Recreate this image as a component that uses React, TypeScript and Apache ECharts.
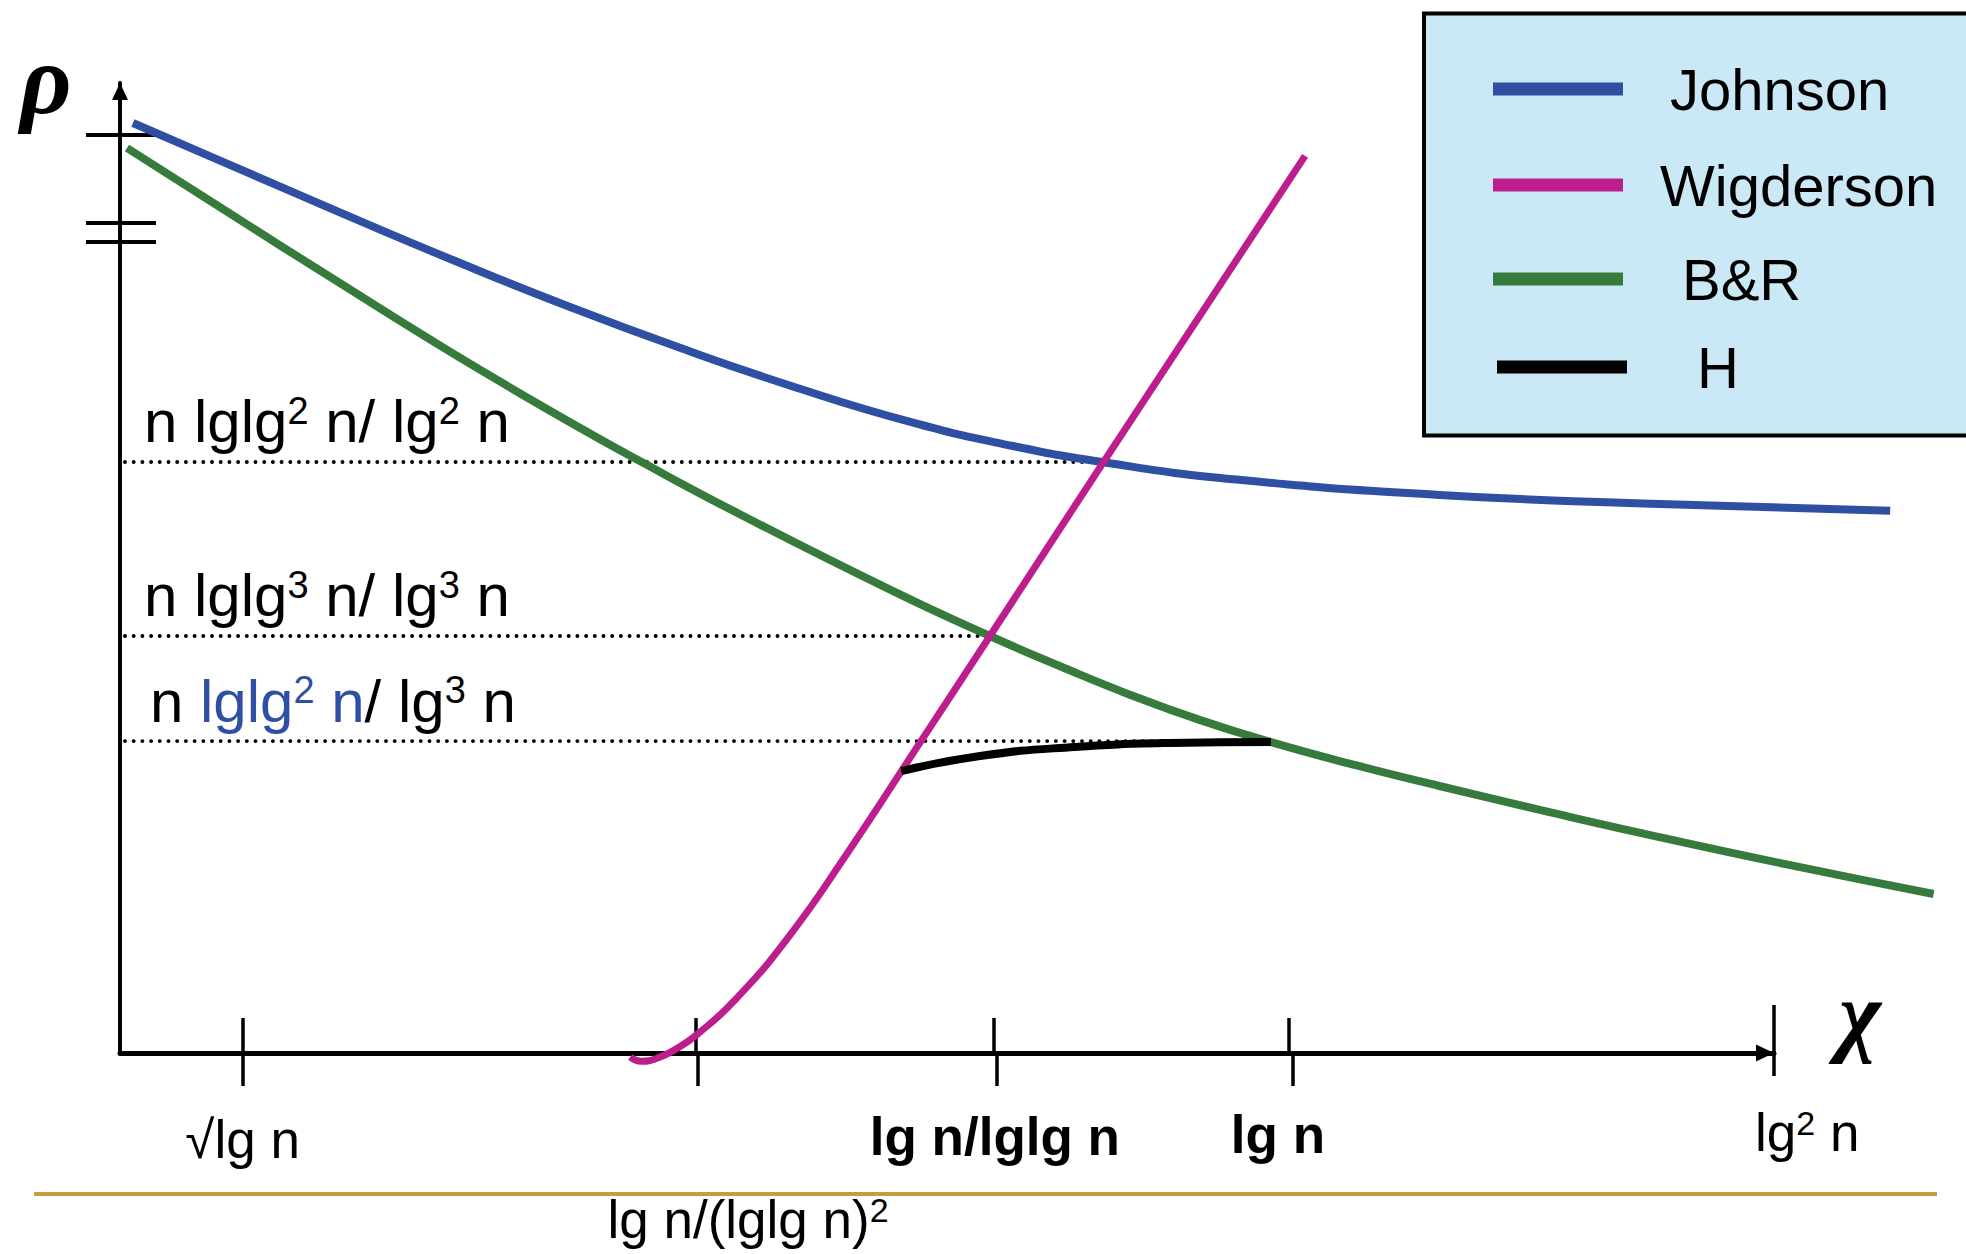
import React, { useEffect, useRef } from 'react';
import * as echarts from 'echarts';

// Chart units: x runs 0 (ρ-axis) .. 100 (lg² n), y runs 0 (χ-axis) .. 100 (top of ρ-axis).
const JOHNSON: [number, number][] = [
  [0.786, 95.876], [6.348, 91.794], [13.301, 86.691], [20.193, 81.753], [27.146, 77.01],
  [34.099, 72.619], [41.052, 68.588], [48.005, 65.031], [53.809, 62.701], [59.674, 60.897],
  [67.715, 59.113], [80.048, 57.536], [92.382, 56.649], [107.4, 55.9],
];

const WIGDERSON: [number, number][] = [
  [30.955, -0.412], [31.62, -0.845], [32.648, -0.495], [33.857, 0.536], [35.006, 1.907],
  [37.243, 5.34], [40.568, 11.979], [44.135, 20.619], [48.428, 31.711], [52.781, 42.99],
  [59.674, 60.928], [71.9, 92.49],
];

const BR: [number, number][] = [
  [0.423, 93.299], [6.348, 86.887], [13.301, 79.412], [20.193, 72.124], [27.146, 65.186],
  [31.681, 60.897], [37.545, 55.598], [47.158, 47.402], [52.781, 42.99], [57.074, 39.845],
  [61.306, 36.918], [65.538, 34.32], [69.831, 32.052], [74.97, 29.67], [80.048, 27.526],
  [86.215, 25.041], [92.382, 22.639], [100.967, 19.495], [110.036, 16.392],
];

const H: [number, number][] = [
  [47.4, 29.07], [52.18, 30.62], [57.92, 31.55], [63.72, 31.96], [69.83, 32.05],
];

const SERIES_NAMES = ['Johnson', 'Wigderson', 'B&R', 'H'];

// χ-axis ticks and their labels (the last tick sits at the arrow head)
const X_TICKS = [7.44, 34.95, 53.02, 70.92];
const X_END = 100;
const X_TICK_LABELS = [
  '{k|√lg n}',
  '{k|lg n/(lglg n)}{s|2}',
  '{kb|lg n/lglg n}',
  '{kb|lg n}',
  '{k|lg}{s|2}{k|\u00a0n}',
];

// ρ-axis break marks
const Y_TICKS = [94.64, 85.57, 83.61];

// Reference levels (dotted) and where each one stops
const LEVELS = [60.93, 42.99, 32.16];
const LEVEL_STARTS = [0.3, 0.3, 0.3];
const LEVEL_ENDS = [59.67, 52.9, 69.83];
const LEVEL_LABELS = [
  '{k|n lglg}{s|2}{k|\u00a0n/ lg}{s|2}{k|\u00a0n}',
  '{k|n lglg}{s|3}{k|\u00a0n/ lg}{s|3}{k|\u00a0n}',
  '{k|n }{b|lglg}{bs|2}{b|\u00a0n}{k|/ lg}{s|3}{k|\u00a0n}',
];

const FONT = '"Liberation Sans", Arial, sans-serif';
const SERIF = '"Liberation Serif", "Times New Roman", serif';
const COLORS: Record<string, string> = {
  Johnson: '#2F4FA2',
  Wigderson: '#BD1E8E',
  'B&R': '#367B3B',
  H: '#000000',
};
const LINE_WIDTHS: Record<string, number> = { Johnson: 8, Wigderson: 7, 'B&R': 8, H: 8 };
const Z_ORDER: Record<string, number> = { Johnson: 3, 'B&R': 4, Wigderson: 5, H: 6 };

const PX_PER_X = 16.54;
const PLOT = { left: 120, top: 83, height: 970 };

export default function App() {
  const ref = useRef<HTMLDivElement>(null);

  useEffect(() => {
    if (!ref.current) return;
    const chart = echarts.init(ref.current, null, { renderer: 'svg' });

    const tickLine = { color: '#000', width: 3.5 };
    const yTickLine = { color: '#000', width: 4 };

    // grid 0 is wide enough to hold the curves that run past the χ arrow;
    // grids 1-3 share the axis span (0..100) and carry the axis line and tick halves
    const grids = [
      { ...PLOT, width: PX_PER_X * 112 },
      { ...PLOT, width: PX_PER_X * 100 },
      { ...PLOT, width: PX_PER_X * 100 },
      { ...PLOT, width: PX_PER_X * 100 },
    ];

    const baseX = (gridIndex: number, max: number) => ({
      type: 'value' as const,
      gridIndex,
      min: 0,
      max,
      position: 'bottom' as const,
      axisLabel: { show: false },
      splitLine: { show: false },
    });
    const baseY = (gridIndex: number) => ({
      type: 'value' as const,
      gridIndex,
      min: 0,
      max: 100,
      position: 'left' as const,
      axisLabel: { show: false },
      splitLine: { show: false },
    });

    const dataMap: Record<string, [number, number][]> = {
      Johnson: JOHNSON,
      Wigderson: WIGDERSON,
      'B&R': BR,
      H: H,
    };

    const curveSeries = SERIES_NAMES.map((name) => ({
      type: 'line',
      name,
      data: dataMap[name],
      xAxisIndex: 0,
      yAxisIndex: 0,
      smooth: true,
      symbol: 'none',
      clip: false,
      silent: true,
      color: COLORS[name],
      itemStyle: { color: COLORS[name] },
      lineStyle: { color: COLORS[name], width: LINE_WIDTHS[name] },
      z: Z_ORDER[name],
    }));

    const levelSeries = LEVELS.map((y, i) => ({
      type: 'line',
      name: `level-${i + 1}`,
      data: [[LEVEL_STARTS[i], y], [LEVEL_ENDS[i], y]],
      xAxisIndex: 0,
      yAxisIndex: 0,
      symbol: 'none',
      silent: true,
      clip: false,
      lineStyle: { color: '#000', width: 3.8, type: [0.1, 8.6], cap: 'round' },
      z: 1,
    }));

    const legendLineY = [89, 185, 279, 367];
    const legendLefts = [1493, 1493, 1493, 1497];
    const legendPads = [42, 32, 54, 65];

    chart.setOption({
      animation: false,
      backgroundColor: '#ffffff',
      textStyle: { fontFamily: FONT },
      grid: grids.map((g) => ({ ...g, containLabel: false })),
      xAxis: [
        {
          ...baseX(0, 112),
          axisLine: { show: false, onZero: false },
          axisTick: { show: true, inside: true, length: 35, customValues: X_TICKS, lineStyle: tickLine },
        },
        {
          ...baseX(1, 100),
          axisLine: {
            show: true,
            onZero: false,
            symbol: ['none', 'triangle'],
            symbolSize: [17, 18],
            symbolOffset: [0, -9],
            lineStyle: { color: '#000', width: 5 },
          },
          axisTick: { show: true, inside: false, length: 33, customValues: X_TICKS, lineStyle: tickLine },
        },
        {
          ...baseX(2, 100),
          axisLine: { show: false, onZero: false },
          axisTick: { show: true, inside: true, length: 48, customValues: [X_END], lineStyle: tickLine },
        },
        {
          ...baseX(3, 100),
          axisLine: { show: false, onZero: false },
          axisTick: { show: true, inside: false, length: 23, customValues: [X_END], lineStyle: tickLine },
        },
      ],
      yAxis: [
        {
          ...baseY(0),
          axisLine: {
            show: true,
            onZero: false,
            symbol: ['none', 'triangle'],
            symbolSize: [16, 17],
            symbolOffset: [0, -8.5],
            lineStyle: { color: '#000', width: 4 },
          },
          axisTick: { show: true, inside: false, length: 34, customValues: Y_TICKS, lineStyle: yTickLine },
        },
        {
          ...baseY(1),
          axisLine: { show: false, onZero: false },
          axisTick: { show: true, inside: true, length: 36, customValues: Y_TICKS, lineStyle: yTickLine },
        },
        { ...baseY(2), show: false },
        { ...baseY(3), show: false },
      ],
      legend: SERIES_NAMES.map((name, i) => ({
        data: [name],
        left: legendLefts[i],
        top: legendLineY[i] - 29,
        orient: 'vertical',
        icon: 'rect',
        itemWidth: 130,
        itemHeight: 13,
        padding: 0,
        selectedMode: false,
        z: 10,
        itemStyle: { borderWidth: 0 },
        textStyle: {
          fontSize: 58,
          color: '#000',
          fontFamily: FONT,
          lineHeight: 13,
          padding: [6, 0, 0, legendPads[i]],
        },
      })),
      series: [...levelSeries, ...curveSeries],
    });

    const toPx = (x: number, y: number) =>
      chart.convertToPixel({ gridIndex: 0 }, [x, y]) as number[];

    const xRich = {
      k: { fontSize: 53, lineHeight: 53, fontFamily: FONT, fill: '#000' },
      kb: { fontSize: 53, lineHeight: 53, fontFamily: FONT, fontWeight: 'bold', fill: '#000' },
      s: { fontSize: 34, lineHeight: 40, fontFamily: FONT, fill: '#000', verticalAlign: 'top' },
    };

    // label placement relative to its tick on the χ-axis
    const xLabelLayout = [
      { dx: 0, dy: 86 },
      { dx: 52, dy: 166 },
      { dx: 1, dy: 83 },
      { dx: -11, dy: 81 },
      { dx: 39, dy: 79 },
    ];
    const tickValues = [...X_TICKS, X_END];
    const xLabelTexts = X_TICK_LABELS.map((label, i) => {
      const [px, py] = toPx(tickValues[i], 0);
      const lay = xLabelLayout[i];
      return {
        type: 'text',
        x: px + lay.dx,
        y: py + lay.dy,
        z: 20,
        style: {
          text: label,
          fontSize: 53,
          fontFamily: FONT,
          fill: '#000',
          align: 'center',
          verticalAlign: 'middle',
          rich: xRich,
        },
      };
    });

    const levelRich = {
      k: { fontSize: 60, lineHeight: 60, fontFamily: FONT, fill: '#000' },
      s: { fontSize: 38, lineHeight: 40, fontFamily: FONT, fill: '#000', verticalAlign: 'top' },
      b: { fontSize: 60, lineHeight: 60, fontFamily: FONT, fill: '#2E4FA3' },
      bs: { fontSize: 38, lineHeight: 40, fontFamily: FONT, fill: '#2E4FA3', verticalAlign: 'top' },
    };
    const levelLabelDx = [24, 24, 30];
    const levelTexts = LEVELS.map((y, i) => {
      const [px, py] = toPx(0, y);
      return {
        type: 'text',
        x: px + levelLabelDx[i],
        y: py - 40,
        z: 20,
        style: {
          text: LEVEL_LABELS[i],
          fill: '#000',
          align: 'left',
          verticalAlign: 'middle',
          fontSize: 60,
          fontFamily: FONT,
          rich: levelRich,
        },
      };
    });

    chart.setOption({
      graphic: [
        {
          type: 'rect',
          z: 0,
          shape: { x: 1424, y: 13.5, width: 560, height: 422 },
          style: { fill: '#CBE8F7', stroke: '#000', lineWidth: 4 },
        },
        {
          type: 'line',
          z: 0,
          shape: { x1: 34, y1: 1194, x2: 1937, y2: 1194 },
          style: { stroke: '#CA9D3C', lineWidth: 4 },
        },
        {
          type: 'text',
          x: 46,
          y: 79,
          z: 20,
          style: {
            text: 'ρ',
            fontSize: 100,
            fontFamily: SERIF,
            fontStyle: 'italic',
            fontWeight: 'bold',
            fill: '#000',
            align: 'center',
            verticalAlign: 'middle',
          },
        },
        {
          type: 'text',
          x: 1860,
          y: 1014,
          z: 20,
          style: {
            text: 'χ',
            fontSize: 90,
            fontFamily: SERIF,
            fontStyle: 'italic',
            fontWeight: 'bold',
            fill: '#000',
            align: 'center',
            verticalAlign: 'middle',
          },
        },
        ...levelTexts,
        ...xLabelTexts,
      ],
    });

    return () => chart.dispose();
  }, []);

  return (
    <div
      ref={ref}
      style={{ position: 'fixed', left: 0, top: 0, width: 1966, height: 1254, background: '#fff' }}
    />
  );
}
